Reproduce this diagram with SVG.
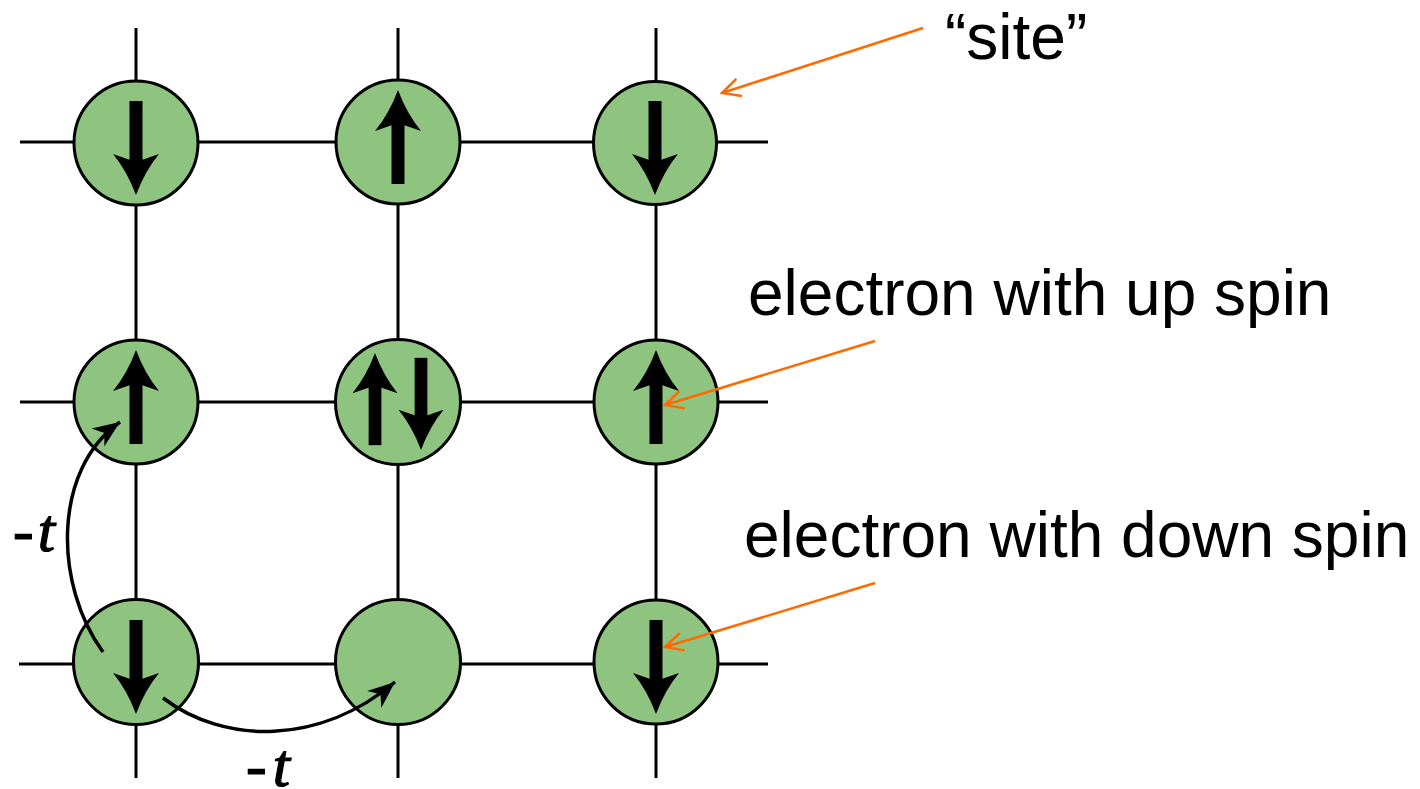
<svg xmlns="http://www.w3.org/2000/svg" width="1420" height="789" viewBox="0 0 1420 789">
<defs>
<style>
.grid{stroke:#000;stroke-width:3;fill:none}
.site{fill:#8fc380;stroke:#000;stroke-width:3}
.hop{stroke:#000;stroke-width:3.5;fill:none}
.ptr{stroke:#ff6a00;stroke-width:2.5;fill:none}
.lbl{font-family:"Liberation Sans",Arial,sans-serif;font-size:64px;fill:#000}
.t{font-family:"Liberation Serif","Times New Roman",serif;font-style:italic;font-size:62px;fill:#000;stroke:#000;stroke-width:1.2}
</style>
<g id="spin">
<rect x="-6.5" y="-42" width="13" height="62"/>
<path d="M -23 11 L 0 19 L 23 11 Q 9 28 0 52 Q -9 28 -23 11 Z"/>
</g>
<marker id="blk" markerUnits="userSpaceOnUse" viewBox="-30 -15 32 30" markerWidth="32" markerHeight="30" refX="0" refY="0" orient="auto">
<path d="M 0 0 L -27 -11 L -19 0 L -27 11 Z" fill="#000"/>
</marker>
<marker id="org" markerUnits="userSpaceOnUse" viewBox="-22 -12 24 24" markerWidth="24" markerHeight="24" refX="0" refY="0" orient="auto">
<path d="M -18 -9 L 0 0 L -18 9" fill="none" stroke="#ff6a00" stroke-width="2.5"/>
</marker>
</defs>
<rect width="1420" height="789" fill="#fff"/>
<g id="lattice">
<line class="grid" x1="20" y1="142" x2="768" y2="142"/>
<line class="grid" x1="20" y1="402" x2="768" y2="402"/>
<line class="grid" x1="19" y1="664" x2="768" y2="664"/>
<line class="grid" x1="136" y1="28" x2="136" y2="778"/>
<line class="grid" x1="398" y1="28" x2="398" y2="778"/>
<line class="grid" x1="656" y1="28" x2="656" y2="778"/>
</g>
<g id="site-0-0"><circle class="site" cx="136" cy="143" r="62"/><use href="#spin" transform="translate(136,143)"/></g>
<g id="site-0-1"><circle class="site" cx="398" cy="142" r="62"/><use href="#spin" transform="translate(398,142) scale(1,-1)"/></g>
<g id="site-0-2"><circle class="site" cx="655" cy="143" r="61.5"/><use href="#spin" transform="translate(655,143)"/></g>
<g id="site-1-0"><circle class="site" cx="136" cy="402" r="62"/><use href="#spin" transform="translate(136,402) scale(1,-1)"/></g>
<g id="site-1-1"><circle class="site" cx="398" cy="402" r="62.5"/><use href="#spin" transform="translate(375,404) scale(0.98,-0.98)"/><use href="#spin" transform="translate(421,399) scale(0.98)"/></g>
<g id="site-1-2"><circle class="site" cx="656" cy="402" r="62"/><use href="#spin" transform="translate(656,402) scale(1,-1)"/></g>
<g id="site-2-0"><circle class="site" cx="136" cy="662" r="62.5"/><use href="#spin" transform="translate(136,662)"/></g>
<g id="site-2-1"><circle class="site" cx="398" cy="662" r="62.5"/></g>
<g id="site-2-2"><circle class="site" cx="656" cy="662" r="62"/><use href="#spin" transform="translate(656,662)"/></g>
<g id="connectors">
<path class="hop" d="M 103 652 C 54 585, 52 470, 120 422" marker-end="url(#blk)"/>
<path class="hop" d="M 163 698 C 225 745, 320 745, 395 682" marker-end="url(#blk)"/>
<line class="ptr" x1="923" y1="28" x2="722" y2="93" marker-end="url(#org)"/>
<line class="ptr" x1="875" y1="341" x2="665" y2="405" marker-end="url(#org)"/>
<line class="ptr" x1="875" y1="583" x2="665" y2="647" marker-end="url(#org)"/>
</g>
<g id="labels">
<text class="t" x="13" y="551" textLength="42" lengthAdjust="spacing">-t</text>
<text class="t" x="246" y="786" textLength="44" lengthAdjust="spacing">-t</text>
<text class="lbl" x="945" y="59">“site”</text>
<text class="lbl" x="748" y="315">electron with up spin</text>
<text class="lbl" x="744" y="557">electron with down spin</text>
</g>
</svg>
